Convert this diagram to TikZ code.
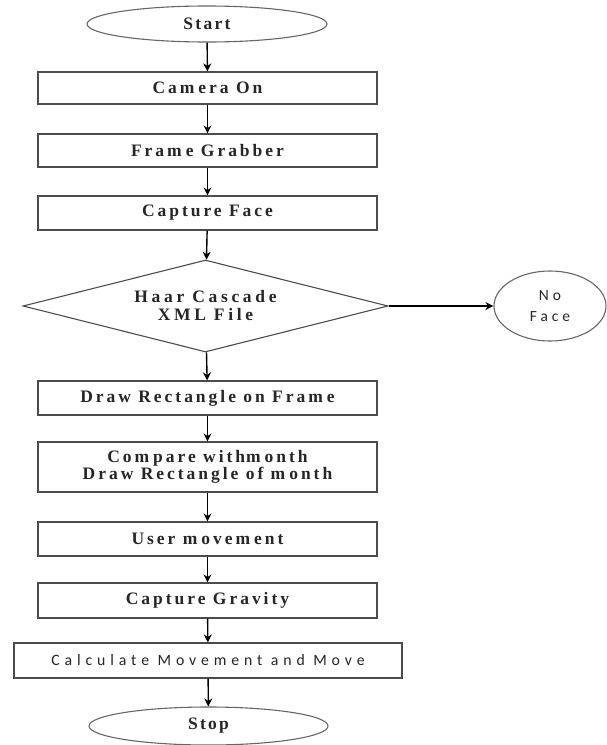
\documentclass[tikz,border=0pt]{standalone}
\usepackage{fontspec}
\setmainfont{Liberation Serif}
\newfontfamily\calfont{Carlito}
\usetikzlibrary{shapes.geometric,arrows.meta}
\newcommand{\gp}{\kern4pt}
\begin{document}
\begin{tikzpicture}[x=1pt,y=-1pt,
  box/.style={draw=black!70,line width=1.2pt,fill=white,rectangle,minimum width=339pt,
    font=\bfseries\fontsize{17.5}{17}\selectfont\addfontfeature{LetterSpace=17},align=center,text=black!85},
  term/.style={draw=black!60,line width=1.1pt,ellipse,minimum width=240pt,minimum height=36pt,
    font=\bfseries\fontsize{17.5}{18}\selectfont\addfontfeature{LetterSpace=13},text=black!85},
  arr/.style={draw=black,line width=1.4pt,-{Stealth[length=8pt,width=8pt]}}]
\useasboundingbox (0,0) rectangle (606,745);
\node[term] (start) at (207,24) {Start};
\node[box,minimum height=32pt] (cam) at (207.5,88) {Cam\gp era On};
\node[box,minimum height=33pt] (fg) at (207.5,150.5) {Fram\gp e Grabber};
\node[box,minimum height=34pt] (cf) at (207.5,213) {Capture Face};
\node[diamond,aspect=4,draw=black!70,line width=1.1pt,minimum width=365pt,minimum height=92pt,inner sep=0pt,
  font=\bfseries\fontsize{17.5}{18}\selectfont\addfontfeature{LetterSpace=21},align=center,text=black!85] (dia) at (205.5,306) {Haar Cascade\\XML File};
\node[ellipse,draw=black!60,line width=1.1pt,minimum width=112pt,minimum height=70pt,inner sep=0pt,
  font=\calfont\fontsize{15.5}{21}\selectfont\addfontfeature{LetterSpace=25},align=center,text=black!85] (nf) at (550,306) {No\\Face};
\node[box,minimum height=34pt] (drf) at (207.5,398) {Draw Rectangle on Fram\gp e};
\node[box,minimum height=50pt] (cmp) at (207.5,467) {Com\gp pare with\kern1pt m\gp onth\\Draw Rectangle of m\gp onth};
\node[box,minimum height=34pt] (um) at (207.5,539) {User m\gp ovem\gp ent};
\node[box,minimum height=35pt] (cg) at (207.5,600.5) {Capture Gravity};
\node[box,minimum width=388pt,minimum height=35pt,font=\calfont\fontsize{15.8}{16}\selectfont\addfontfeature{LetterSpace=31}] (calc) at (208,660.5) {Calculate Movement and Move};
\node[term,minimum width=239pt,minimum height=38pt] (stop) at (208.5,726) {Stop};
\draw[arr] (start) -- (cam);
\draw[arr] (cam) -- (fg);
\draw[arr] (fg) -- (cf);
\draw[arr] (cf) -- (dia);
\draw[arr,line width=1.1pt] (dia) -- (nf);
\draw[arr] (dia) -- (drf);
\draw[arr] (drf) -- (cmp);
\draw[arr] (cmp) -- (um);
\draw[arr] (um) -- (cg);
\draw[arr] (cg) -- (calc);
\draw[arr] (calc) -- (stop);
\end{tikzpicture}
\end{document}
